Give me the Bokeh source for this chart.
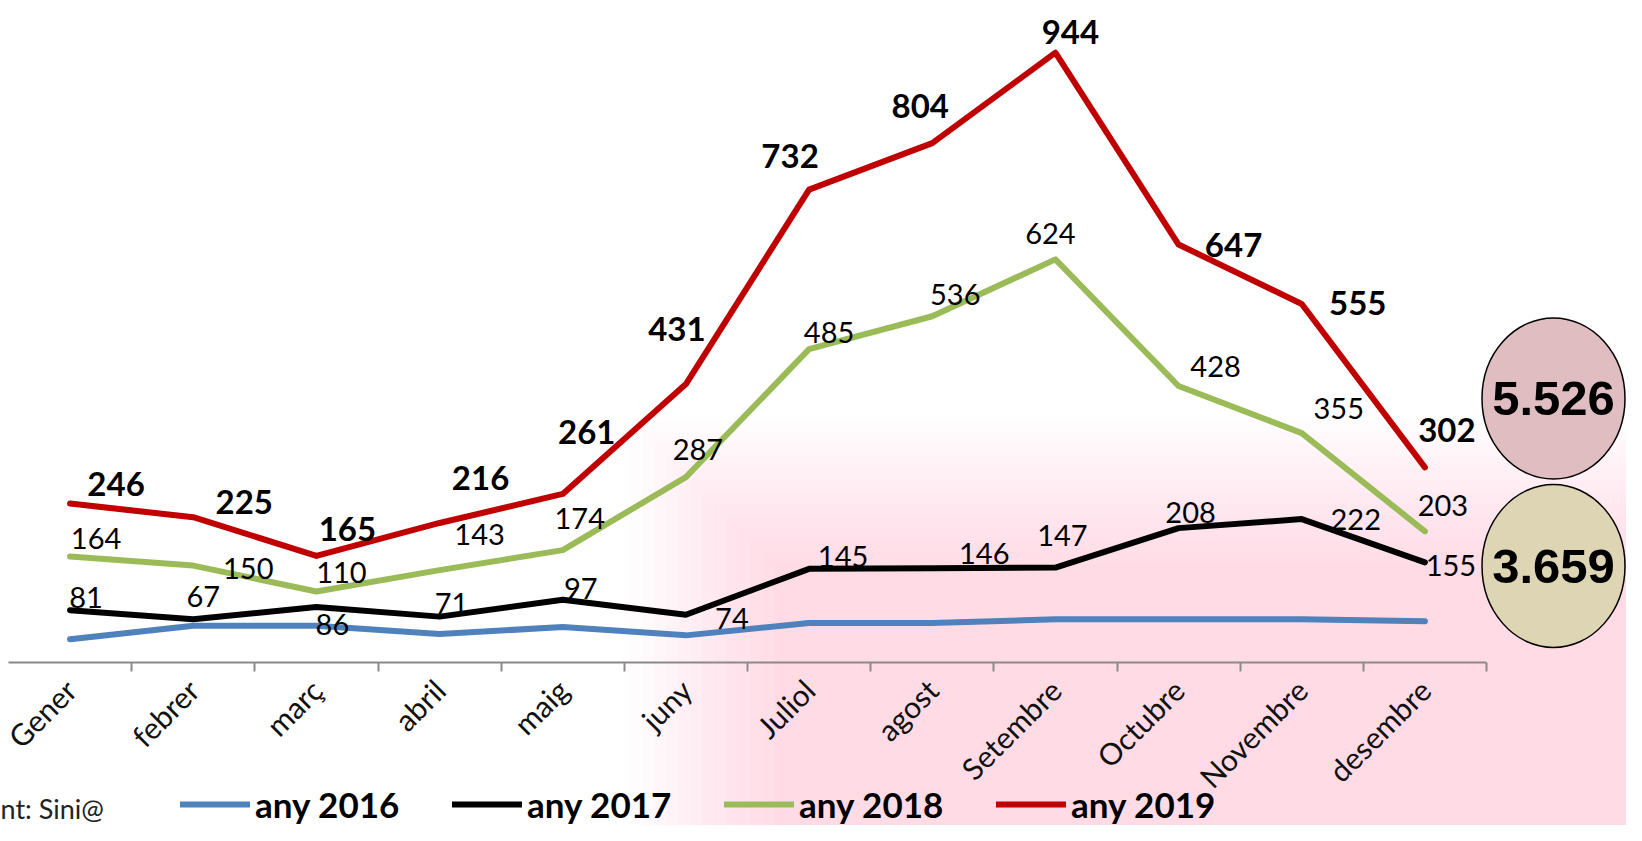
import math
from bokeh.plotting import figure
from bokeh.models import (FixedTicker, Legend, LegendItem, Label, LabelSet,
                          ColumnDataSource, Range1d)
from bokeh.core.properties import value
from bokeh.embed import file_html
from bokeh.resources import INLINE

# ---------------- data ----------------
months = ["Gener", "febrer", "març", "abril", "maig", "juny", "Juliol",
          "agost", "Setembre", "Octubre", "Novembre", "desembre"]
any_2016 = [36, 57, 57, 44, 55, 42, 61, 61, 67, 67, 67, 64]
any_2017 = [81, 67, 86, 71, 97, 74, 145, 146, 147, 208, 222, 155]
any_2018 = [164, 150, 110, 143, 174, 287, 485, 536, 624, 428, 355, 203]
any_2019 = [246, 225, 165, 216, 261, 431, 732, 804, 944, 647, 555, 302]
series_names = ["any 2016", "any 2017", "any 2018", "any 2019"]
total_labels = ["5.526", "3.659"]
source_text = "nt: Sini@"

# ---------------- styling / label placement (screen px) ----------------
colors = ["#4F81BD", "#000000", "#9BBB59", "#C00000"]
off_2017 = [(16, -13), (10, -23), (16, 18), (12, -13), (18, -11), (46, 4),
            (34, -12), (52, -15), (7, -32), (12, -16), (54, 0), (26, 3)]
off_2018 = [(26, -18), (55, 3), (25, -19), (40, -36), (17, -32), (12, -28),
            (20, -17), (23, -22), (-5, -26), (37, -20), (37, -25), (18, -26)]
off_2019 = [(46, -20), (51, -15), (31, -27), (41, -45), (24, -62), (-9, -55),
            (-19, -34), (-12, -37), (15, -21), (55, 0), (56, -1), (22, -37)]

W, H = 1626, 825
AXIS_Y = 662          # canvas y of the category axis
AXIS_X0 = 8           # canvas x where the axis starts
UNIT_X = 1478 / 12.0  # px per category
PX_PER_UNIT = 0.646   # px per value unit

def sx(px):  # canvas px -> data x
    return (px - AXIS_X0) / UNIT_X

def sy(py):  # canvas px -> data y
    return (AXIS_Y - py) / PX_PER_UNIT

xs = [i + 0.5 for i in range(len(months))]

p = figure(width=W, height=H, output_backend="svg", toolbar_location=None,
           x_range=Range1d(sx(0), sx(W)), y_range=Range1d(sy(H), sy(0)),
           y_axis_location=None,
           min_border_left=0, min_border_right=0, min_border_top=0,
           min_border_bottom=0)
p.grid.visible = False
p.outline_line_color = None
p.background_fill_color = "white"
p.border_fill_color = "white"

# faint, soft-edged pink watermark wash behind the right half of the chart
insets = list(range(0, 150, 12))
p.quad(left=[sx(630 + i) for i in insets], right=[sx(W)] * len(insets),
       top=[sy(420 + i) for i in insets], bottom=[sy(H)] * len(insets),
       fill_color="#F7BFC6", fill_alpha=0.04, line_color=None,
       level="underlay")

ax = p.xaxis[0]
ax.fixed_location = 0
ax.ticker = FixedTicker(ticks=xs, minor_ticks=list(range(1, 13)))
ax.major_label_overrides = {x: m for x, m in zip(xs, months)}
ax.bounds = (0, 12)
ax.axis_line_color = "#8a8a8a"
ax.axis_line_width = 2
ax.major_tick_line_color = None
ax.major_tick_in = 0
ax.major_tick_out = 0
ax.minor_tick_line_color = "#8a8a8a"
ax.minor_tick_line_width = 2
ax.minor_tick_in = 0
ax.minor_tick_out = 9
ax.major_label_orientation = math.pi / 4
ax.major_label_standoff = 13
ax.major_label_text_font = "Lato"
ax.major_label_text_font_size = "30px"
ax.major_label_text_color = "#111111"

series = [any_2016, any_2017, any_2018, any_2019]
renderers = []
for vals, col in zip(series, colors):
    r = p.line(xs, vals, line_color=col, line_width=6, line_join="round",
               line_cap="round")
    renderers.append(r)

def add_labels(vals, offs, bold, size):
    src = ColumnDataSource(dict(
        x=xs, y=vals, t=[str(v) for v in vals],
        dx=[o[0] for o in offs], dy=[-o[1] for o in offs]))
    ls = LabelSet(x="x", y="y", text="t", source=src,
                  x_offset="dx", y_offset="dy",
                  text_align="center", text_baseline="middle",
                  text_font=value("Lato"), text_font_size=size,
                  text_font_style="bold" if bold else "normal",
                  text_color="#000000")
    p.add_layout(ls)

add_labels(any_2017, off_2017, False, "29px")
add_labels(any_2018, off_2018, False, "29px")
add_labels(any_2019, off_2019, True, "33px")

# total bubbles
cx = sx(1553)
bsrc = ColumnDataSource(dict(x=[cx, cx], y=[sy(398), sy(565.5)],
                             w=[143, 143], h=[161, 163],
                             fill=["#DFBDC1", "#DDD5B3"], t=total_labels))
p.ellipse(x="x", y="y", width="w", height="h", width_units="screen",
          height_units="screen", fill_color="fill", line_color="black",
          line_width=1.5, source=bsrc)
p.text(x="x", y="y", text="t", source=bsrc, text_align="center",
       text_baseline="middle", text_font=value("Liberation Sans"),
       text_font_style="bold", text_font_size="49px", text_color="black")

legend = Legend(items=[LegendItem(label=n, renderers=[r])
                       for n, r in zip(series_names, renderers)],
                orientation="horizontal", location=(180, 0),
                glyph_width=70, glyph_height=20, label_standoff=5,
                label_width=150, spacing=47, padding=0, margin=0,
                border_line_color=None, background_fill_alpha=0,
                label_text_font="Lato", label_text_font_style="bold",
                label_text_font_size="35px", label_text_color="black")
p.add_layout(legend)

p.add_layout(Label(x=0, y=1, x_units="screen", y_units="screen",
                   text=source_text, text_baseline="bottom",
                   text_font="Lato", text_font_size="27px",
                   text_color="#222222"))

open("out.html", "w").write(file_html(p, INLINE))
